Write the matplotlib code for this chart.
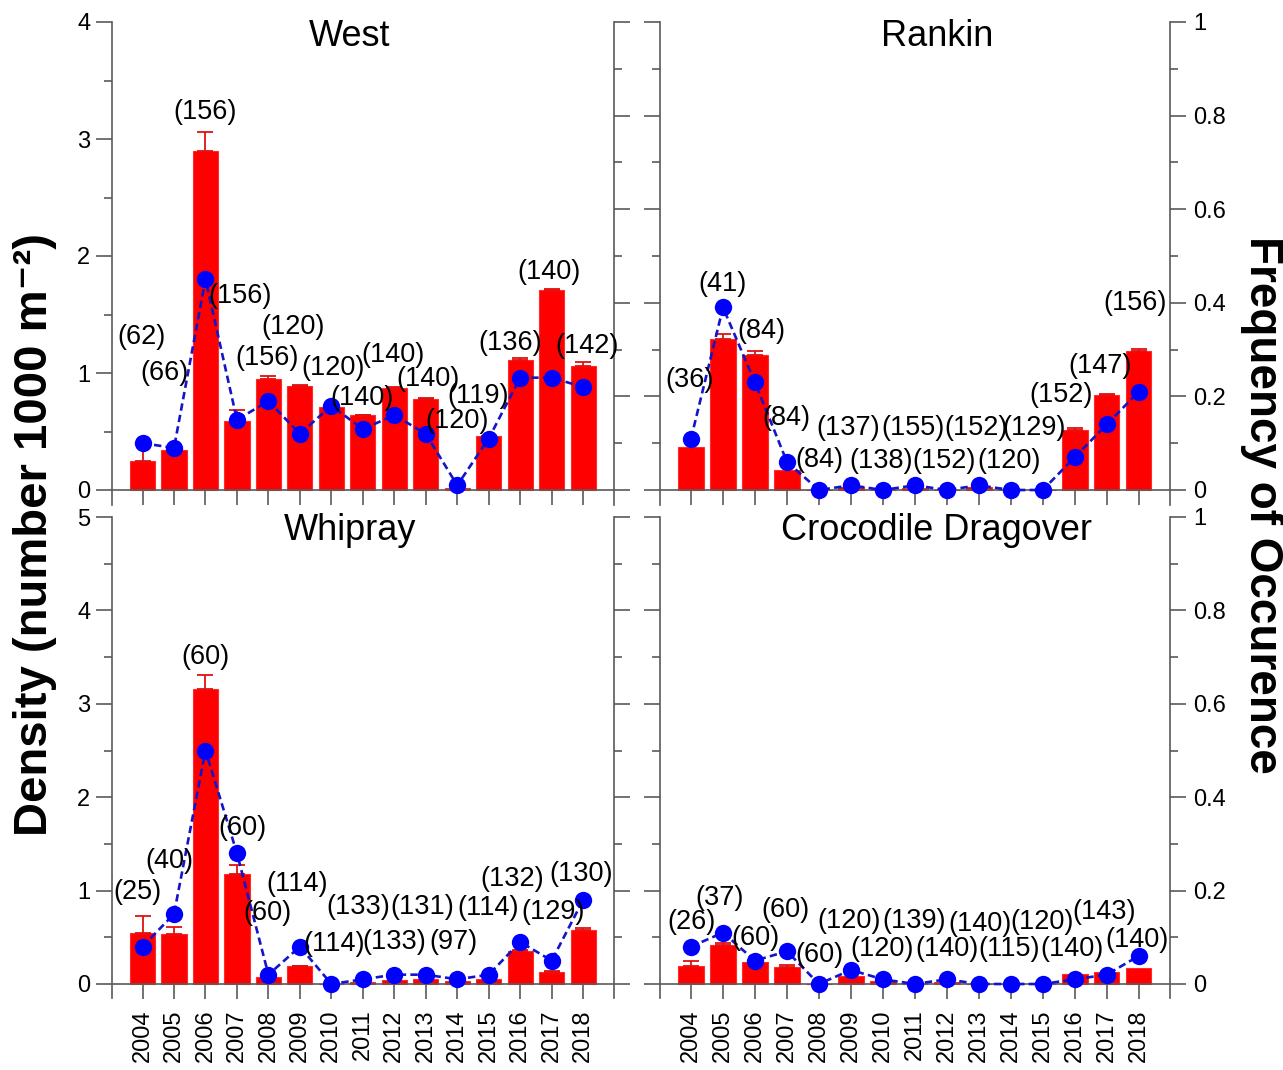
import matplotlib
matplotlib.use('Agg')
import matplotlib.pyplot as plt
import numpy as np
from matplotlib.ticker import MultipleLocator, FuncFormatter

plt.rcParams['font.family'] = ['Liberation Sans', 'DejaVu Sans']

# ---------------- data ----------------
years = [str(y) for y in range(2004, 2019)]

west_density = [0.25, 0.34, 2.90, 0.59, 0.95, 0.89, 0.71, 0.64, 0.87, 0.78, 0.02, 0.46, 1.11, 1.71, 1.06]
west_err = [0.15, 0.02, 0.16, 0.09, 0.025, 0.005, 0.01, 0.005, 0.01, 0.005, 0.0, 0.005, 0.02, 0.01, 0.03]
west_freq = [0.10, 0.09, 0.45, 0.15, 0.19, 0.12, 0.18, 0.13, 0.16, 0.12, 0.01, 0.11, 0.24, 0.24, 0.22]
west_n = [62, 66, 156, 156, 156, 120, 120, 140, 140, 140, 120, 119, 136, 140, 142]

rankin_density = [0.46, 1.61, 1.44, 0.21, 0.0, 0.03, 0.0, 0.02, 0.0, 0.03, 0.0, 0.0, 0.64, 1.01, 1.48]
rankin_err = [0.0, 0.06, 0.045, 0.0, 0.0, 0.0, 0.0, 0.0, 0.0, 0.0, 0.0, 0.0, 0.02, 0.02, 0.025]
rankin_freq = [0.11, 0.39, 0.23, 0.06, 0.0, 0.01, 0.0, 0.01, 0.0, 0.01, 0.0, 0.0, 0.07, 0.14, 0.21]
rankin_n = [36, 41, 84, 84, 84, 137, 138, 155, 152, 152, 120, 129, 152, 147, 156]

whipray_density = [0.545, 0.537, 3.16, 1.18, 0.08, 0.19, 0.005, 0.02, 0.04, 0.05, 0.03, 0.05, 0.35, 0.13, 0.58]
whipray_err = [0.18, 0.07, 0.15, 0.09, 0.0, 0.005, 0.0, 0.0, 0.0, 0.0, 0.0, 0.0, 0.01, 0.005, 0.02]
whipray_freq = [0.08, 0.15, 0.50, 0.28, 0.02, 0.08, 0.0, 0.01, 0.02, 0.02, 0.01, 0.02, 0.09, 0.05, 0.18]
whipray_n = [25, 40, 60, 60, 60, 114, 114, 133, 133, 131, 97, 114, 132, 129, 130]

croc_density = [0.19, 0.42, 0.24, 0.18, 0.0, 0.09, 0.03, 0.0, 0.02, 0.0, 0.0, 0.0, 0.105, 0.13, 0.175]
croc_err = [0.055, 0.02, 0.0, 0.025, 0.0, 0.0, 0.0, 0.0, 0.0, 0.0, 0.0, 0.0, 0.0, 0.0, 0.0]
croc_freq = [0.08, 0.11, 0.05, 0.07, 0.0, 0.03, 0.01, 0.0, 0.01, 0.0, 0.0, 0.0, 0.01, 0.02, 0.06]
croc_n = [26, 37, 60, 60, 60, 120, 120, 139, 140, 140, 115, 120, 140, 143, 140]

# ---------------- label placement (annotation layout) ----------------
west_lab_dx = [-0.03, -0.30, 0.0, 0.10, -0.05, -0.22, 0.05, -0.04, -0.04, 0.07, 0.0, -0.34, -0.32, -0.10, 0.13]
west_lab_y = [1.31, 1.00, 3.23, 1.66, 1.13, 1.39, 1.04, 0.79, 1.15, 0.95, 0.59, 0.80, 1.26, 1.86, 1.23]

rankin_lab_dx = [-0.04, -0.01, 0.19, -0.03, 0.0, -0.10, -0.06, -0.07, -0.08, -0.10, -0.04, -0.26, -0.43, -0.20, -0.10]
rankin_lab_y = [1.18, 2.20, 1.70, 0.77, 0.32, 0.66, 0.31, 0.66, 0.31, 0.66, 0.31, 0.66, 1.02, 1.32, 2.00]

whipray_lab_dx = [-0.15, -0.16, 0.01, 0.19, -0.03, -0.08, 0.09, -0.15, -0.01, -0.10, -0.13, -0.03, -0.25, 0.05, -0.07]
whipray_lab_y = [0.98, 1.32, 3.50, 1.67, 0.76, 1.07, 0.43, 0.82, 0.45, 0.82, 0.45, 0.81, 1.12, 0.77, 1.18]

croc_lab_dx = [0.03, -0.10, 0.03, -0.05, 0.03, -0.07, -0.01, -0.03, 0.0, 0.03, -0.04, -0.01, -0.08, -0.07, -0.04]
croc_lab_y = [0.66, 0.92, 0.49, 0.79, 0.31, 0.67, 0.37, 0.67, 0.37, 0.64, 0.37, 0.66, 0.37, 0.77, 0.47]

# ---------------- figure ----------------
W, H = 1283, 1070
fig = plt.figure(figsize=(W / 100, H / 100), dpi=100)

SPINE_C = '#5a5a5a'
BAR_C = '#ff0000'
DOT_C = '#0000ff'
LINE_C = '#1414c8'
FS_TICK = 17
FS_LAB = 19.5
FS_TITLE = 26


def px_rect(x0, x1, ytop, ybot):
    return [x0 / W, 1 - ybot / H, (x1 - x0) / W, (ybot - ytop) / H]


def panel(rect, title, title_x, dens, err, freq, n, lab_dx, lab_y, ymax, ext_frac,
          left_labels, right_labels, bottom_labels):
    ax = fig.add_axes(rect)
    x = np.arange(len(years))
    lo = -ext_frac / (1 - ext_frac)
    ax.set_ylim(lo * ymax, ymax)
    ax.set_xlim(-0.97, len(years) - 1 + 0.98)

    ax.bar(x, dens, width=0.8, color=BAR_C, edgecolor='#ff2a2a', linewidth=0.8, zorder=2)
    e = np.asarray(err)
    m = e > 0
    ax.errorbar(x[m], np.asarray(dens)[m], yerr=[np.zeros(m.sum()), e[m]], fmt='none',
                ecolor='#e01010', elinewidth=1.3, capsize=5.5, capthick=1.3, zorder=3)

    for s in ['top', 'right']:
        ax.spines[s].set_visible(False)
    ax.spines['bottom'].set_position(('data', 0))
    for s in ['left', 'bottom']:
        ax.spines[s].set_color(SPINE_C)
        ax.spines[s].set_linewidth(1.2)

    ax.set_xticks(x)
    if bottom_labels:
        ax.set_xticklabels(years, rotation=90, fontsize=FS_TICK)
    else:
        ax.set_xticklabels([])
    ax.tick_params(axis='x', direction='out', length=10.5, width=1.2, color=SPINE_C, pad=8)

    ax.yaxis.set_major_locator(MultipleLocator(1))
    ax.yaxis.set_minor_locator(MultipleLocator(0.5))
    ax.yaxis.set_major_formatter(FuncFormatter(lambda v, p: f"{v:g}"))
    ax.tick_params(axis='y', which='major', direction='out', length=11.5, width=1.2,
                   color=SPINE_C, labelsize=FS_TICK, pad=4, labelleft=left_labels)
    ax.tick_params(axis='y', which='minor', direction='out', length=5.5, width=1.2, color=SPINE_C)

    ax2 = ax.twinx()
    ax2.set_ylim(lo, 1)
    for s in ['top', 'bottom', 'left']:
        ax2.spines[s].set_visible(False)
    ax2.spines['right'].set_color(SPINE_C)
    ax2.spines['right'].set_linewidth(1.2)
    ax2.yaxis.set_major_locator(MultipleLocator(0.2))
    ax2.yaxis.set_minor_locator(MultipleLocator(0.1))
    ax2.yaxis.set_major_formatter(FuncFormatter(lambda v, p: f"{v:g}"))
    ax2.tick_params(axis='y', which='major', direction='out', length=11.5, width=1.2,
                    color=SPINE_C, labelsize=FS_TICK, pad=5, labelright=right_labels)
    ax2.tick_params(axis='y', which='minor', direction='out', length=5.5, width=1.2, color=SPINE_C)

    ax2.plot(x, freq, linestyle=(0, (2.8, 1.6)), color=LINE_C, linewidth=1.9, zorder=3)
    ax2.plot(x, freq, 'o', color=DOT_C, markersize=12.5, markeredgewidth=0, zorder=4)

    for i, (val, dx, yy) in enumerate(zip(n, lab_dx, lab_y)):
        ax2.text(x[i] + dx, yy, f"({val})", transform=ax.transData, ha='center', va='center',
                 fontsize=FS_LAB, color='black', zorder=6)

    ax2.text(title_x, 1 - 14 / (rect[3] * H), title, transform=ax.transAxes,
             ha='center', va='center', fontsize=FS_TITLE, zorder=6)
    return ax, ax2


panel(px_rect(112, 614, 22, 505), 'West', 0.474, west_density, west_err, west_freq, west_n,
      west_lab_dx, west_lab_y, 4, 15 / 483, True, False, False)
panel(px_rect(660, 1170, 22, 505), 'Rankin', 0.543, rankin_density, rankin_err, rankin_freq, rankin_n,
      rankin_lab_dx, rankin_lab_y, 5, 15 / 483, False, True, False)
panel(px_rect(112, 614, 517, 998), 'Whipray', 0.474, whipray_density, whipray_err, whipray_freq, whipray_n,
      whipray_lab_dx, whipray_lab_y, 5, 14 / 481, True, False, True)
panel(px_rect(660, 1170, 517, 998), 'Crocodile Dragover', 0.543, croc_density, croc_err, croc_freq, croc_n,
      croc_lab_dx, croc_lab_y, 5, 14 / 481, False, True, True)

fig.text(35 / W, 1 - 535 / H, "Density (number 1000 m\u207b\u00b2)", rotation=90,
         ha='center', va='center', fontsize=34, fontweight='bold',
         family=['Liberation Sans', 'DejaVu Sans'])
fig.text(1262 / W, 1 - 505 / H, "Frequency of Occurence", rotation=270,
         ha='center', va='center', fontsize=33, fontweight='bold')

fig.savefig('out.png', dpi=100)
